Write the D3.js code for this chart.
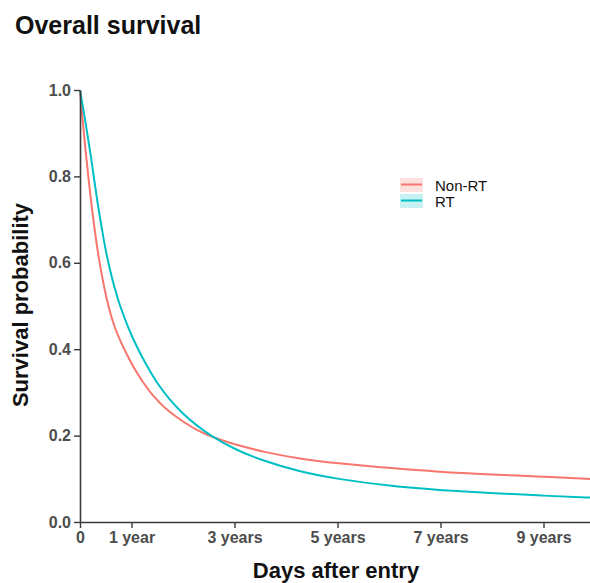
<!DOCTYPE html>
<html>
<head>
<meta charset="utf-8">
<script src="https://cdn.jsdelivr.net/npm/d3@7"></script>
<style>
  html, body { margin: 0; padding: 0; background: white; }
  svg { display: block; }
</style>
</head>
<body>
<div id="km-chart"></div>
<script>
// groups and their colours (ggplot defaults)
const groups = ["Non-RT", "RT"];
const groupColors = ["#F8766D", "#00BFC4"];

// days after entry, survival probability
const nonRtDays = [0, 20, 40, 60, 90, 120, 150, 190, 230, 270, 319, 380, 437, 520, 615, 730, 830, 921, 1000, 1091, 1300, 1559, 1814, 2190, 2544, 2920, 3274, 3650];
const nonRtSurv = [1.0, 0.925, 0.858, 0.795, 0.71, 0.638, 0.578, 0.513, 0.465, 0.430, 0.396, 0.357, 0.328, 0.290, 0.259, 0.232, 0.212, 0.199, 0.190, 0.180, 0.162, 0.146, 0.136, 0.125, 0.116, 0.110, 0.105, 0.099];

const rtDays = [0, 18, 35, 57, 78, 99, 128, 156, 184, 213, 241, 283, 340, 390, 461, 546, 638, 730, 822, 921, 1091, 1276, 1559, 1814, 2197, 2544, 2906, 3274, 3650];
const rtSurv = [1.0, 0.966, 0.934, 0.887, 0.845, 0.796, 0.731, 0.676, 0.625, 0.583, 0.546, 0.500, 0.451, 0.414, 0.368, 0.321, 0.282, 0.250, 0.2245, 0.201, 0.169, 0.144, 0.116, 0.100, 0.083, 0.074, 0.067, 0.061, 0.056];

// axis ticks
const xTickDays = [0, 365, 1095, 1825, 2555, 3285];
const xTickLabels = ["0", "1 year", "3 years", "5 years", "7 years", "9 years"];
const yTicks = [0, 0.2, 0.4, 0.6, 0.8, 1.0];

function chart() {
    const width = 590,
        height = 583;

    const svg = d3.select("#km-chart").append("svg")
        .attr("width", width)
        .attr("height", height)
        .style("font-family", "'Liberation Sans', Arial, sans-serif");

    const x = d3.scaleLinear().domain([0, 3650]).range([80, 595]);
    const y = d3.scaleLinear().domain([0, 1]).range([522, 90]);

    // title
    svg.append("text")
        .attr("x", 15)
        .attr("y", 34)
        .attr("font-size", 25)
        .attr("font-weight", "bold")
        .attr("fill", "#111")
        .text("Overall survival");

    // curves
    const series = [
        {name: groups[0], color: groupColors[0], values: nonRtDays.map((d, i) => [d, nonRtSurv[i]])},
        {name: groups[1], color: groupColors[1], values: rtDays.map((d, i) => [d, rtSurv[i]])}
    ];

    // basis smooths out the reading noise between the points
    const line = d3.line()
        .x(d => x(d[0]))
        .y(d => y(d[1]))
        .curve(d3.curveBasis);

    svg.append("g")
        .attr("fill", "none")
        .attr("stroke-width", 2)
        .selectAll("path")
        .data(series)
        .join("path")
        .attr("stroke", d => d.color)
        .attr("d", d => line(d.values));

    // y axis
    const yAxis = svg.append("g")
        .attr("transform", `translate(${x(0)},0)`)
        .call(d3.axisLeft(y).tickValues(yTicks).tickFormat(d3.format(".1f"))
            .tickSize(6).tickSizeOuter(0).tickPadding(3));

    // x axis
    const xAxis = svg.append("g")
        .attr("transform", `translate(0,${y(0)})`)
        .call(d3.axisBottom(x).tickValues(xTickDays).tickFormat((d, i) => xTickLabels[i])
            .tickSize(6).tickSizeOuter(0).tickPadding(4));

    [xAxis, yAxis].forEach(ax => {
        ax.select(".domain").attr("stroke", "#3a3a3a").attr("stroke-width", 1.6);
        ax.selectAll(".tick line").attr("stroke", "#3a3a3a").attr("stroke-width", 1.4);
        ax.selectAll(".tick text")
            .attr("fill", "#4d4d4d")
            .attr("font-size", 16)
            .attr("font-weight", "bold")
            .attr("font-family", "'Liberation Sans', Arial, sans-serif");
    });

    // axis titles
    svg.append("text")
        .attr("x", 336)
        .attr("y", 578)
        .attr("text-anchor", "middle")
        .attr("font-size", 22)
        .attr("font-weight", "bold")
        .attr("fill", "#111")
        .text("Days after entry");

    svg.append("text")
        .attr("transform", "translate(28,305) rotate(-90)")
        .attr("text-anchor", "middle")
        .attr("font-size", 22)
        .attr("font-weight", "bold")
        .attr("fill", "#111")
        .text("Survival probability");

    // legend
    const legend = svg.append("g")
        .attr("transform", "translate(400,178)");

    const item = legend.selectAll("g")
        .data(series)
        .join("g")
        .attr("transform", (d, i) => `translate(0,${i * 16})`);

    item.append("rect")
        .attr("width", 23)
        .attr("height", 14)
        .attr("fill", d => d.color)
        .attr("fill-opacity", 0.22);

    item.append("line")
        .attr("x1", 1)
        .attr("x2", 22)
        .attr("y1", 6.5)
        .attr("y2", 6.5)
        .attr("stroke", d => d.color)
        .attr("stroke-width", 2);

    item.append("text")
        .attr("x", 35)
        .attr("y", 12.5)
        .attr("font-size", 15)
        .attr("fill", "#111")
        .text(d => d.name);
}

window.onload = function() {
  chart();
};
</script>
</body>
</html>
